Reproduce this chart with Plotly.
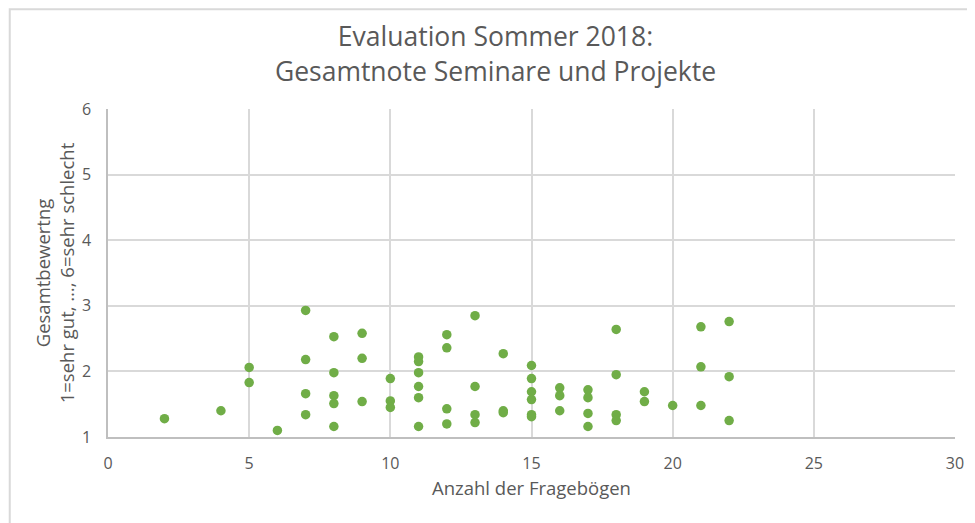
import plotly.graph_objects as go

# Anzahl der Fragebögen (x) and Gesamtbewertung (y)
anzahl = [2, 4, 5, 5, 6,
          7, 7, 7, 7,
          8, 8, 8, 8, 8,
          9, 9, 9,
          10, 10, 10,
          11, 11, 11, 11, 11, 11,
          12, 12, 12, 12,
          13, 13, 13, 13,
          14, 14, 14,
          15, 15, 15, 15, 15, 15,
          16, 16, 16,
          17, 17, 17, 17,
          18, 18, 18, 18,
          19, 19,
          20,
          21, 21, 21,
          22, 22, 22]
note = [1.28, 1.40, 2.06, 1.83, 1.10,
        2.93, 2.18, 1.66, 1.34,
        2.53, 1.98, 1.63, 1.51, 1.16,
        2.58, 2.20, 1.54,
        1.89, 1.55, 1.45,
        2.22, 2.15, 1.98, 1.77, 1.60, 1.16,
        2.56, 2.36, 1.43, 1.20,
        2.85, 1.77, 1.34, 1.22,
        2.27, 1.40, 1.37,
        2.09, 1.89, 1.69, 1.57, 1.34, 1.31,
        1.75, 1.63, 1.40,
        1.72, 1.60, 1.36, 1.16,
        2.64, 1.95, 1.34, 1.25,
        1.69, 1.54,
        1.48,
        2.68, 2.07, 1.48,
        2.76, 1.92, 1.25]

x_ticks = [0, 5, 10, 15, 20, 25, 30]
y_ticks = [1, 2, 3, 4, 5, 6]

title_text = "Evaluation Sommer 2018:<br>Gesamtnote Seminare und Projekte"
x_title = "Anzahl der Fragebögen"
y_title = "Gesamtbewertng<br>1=sehr gut, …, 6=sehr schlecht"

FONT = "Open Sans"
GREY = "#595959"

fig = go.Figure(go.Scatter(
    x=anzahl, y=note, mode="markers",
    marker=dict(color="#70AD47", size=9.5, line=dict(width=0)),
    showlegend=False,
))

fig.update_layout(
    width=975, height=523,
    paper_bgcolor="white", plot_bgcolor="white",
    margin=dict(l=100, r=28, t=101, b=94),
    font=dict(family=FONT, color=GREY, size=16),
    title=dict(text=title_text, x=0.5, xanchor="center", y=0.927, yanchor="top",
               font=dict(family=FONT, size=26.5, color=GREY)),
    xaxis=dict(range=[0, 30], tickvals=x_ticks, showgrid=True, gridcolor="#d9d9d9",
               gridwidth=1.5, zeroline=False, showline=True, linecolor="#bfbfbf",
               linewidth=1.5, ticks="outside", ticklen=11, tickcolor="rgba(0,0,0,0)",
               automargin=False, tickfont=dict(size=16, color=GREY),
               title=dict(text=x_title, font=dict(size=18.5, color=GREY), standoff=9)),
    yaxis=dict(range=[1, 6], tickvals=y_ticks, showgrid=True, gridcolor="#d9d9d9",
               gridwidth=1.5, zeroline=False, showline=True, linecolor="#bfbfbf",
               linewidth=1.5, ticks="outside", ticklen=12, tickcolor="rgba(0,0,0,0)",
               automargin=False, tickfont=dict(size=16, color=GREY),
               title=dict(text=y_title, font=dict(size=18.5, color=GREY), standoff=2)),
    shapes=[dict(type="rect", xref="paper", yref="paper",
                 x0=-0.116, x1=1.2, y0=-0.5, y1=1.304,
                 line=dict(color="#d9d9d9", width=2))],
)

fig.write_html("out.html")
